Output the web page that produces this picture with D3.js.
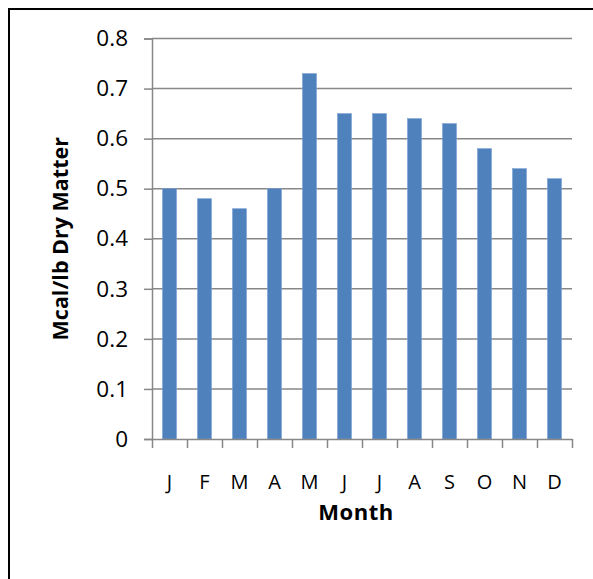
<!DOCTYPE html>
<html>
<head>
<meta charset="utf-8">
<script src="https://cdn.jsdelivr.net/npm/d3@7"></script>
<style>
  html, body { margin: 0; padding: 0; background: #fff; }
  svg { display: block; }
  text { font-family: "Open Sans", Lato, sans-serif; fill: #000; }
</style>
</head>
<body>
<svg id="chart" width="593" height="579"></svg>
<script>
const months = ["J","F","M","A","M","J","J","A","S","O","N","D"];
const values = [0.50, 0.48, 0.46, 0.50, 0.73, 0.65, 0.65, 0.64, 0.63, 0.58, 0.54, 0.52];
const yTicks = [0, 0.1, 0.2, 0.3, 0.4, 0.5, 0.6, 0.7, 0.8];
const yTitle = "Mcal/lb Dry Matter";
const xTitle = "Month";

(function () {
const svg = d3.select("#chart");
const W = 593, H = 579;
const FONT = "'Open Sans', Lato, sans-serif";
svg.append("rect").attr("x", 0).attr("y", 0).attr("width", W).attr("height", H).attr("fill", "#fff");
// outer border (only top/left visible in frame)
svg.append("rect").attr("x", 9).attr("y", 9).attr("width", W + 20).attr("height", H + 20)
  .attr("fill", "none").attr("stroke", "#000").attr("stroke-width", 2);

const pL = 152, pR = 572, pT = 38.5, pB = 439;
const idx = months.map((d, i) => i);
const x = d3.scaleBand().domain(idx).range([pL, pR]).paddingInner(0.6).paddingOuter(0.3);
const xb = d3.scaleLinear().domain([0, months.length]).range([pL, pR]);
const y = d3.scaleLinear().domain([0, 0.8]).range([pB, pT]);

const gridColor = "#878787";

// gridlines
svg.append("g").selectAll("line").data(yTicks.filter(t => t > 0)).join("line")
  .attr("x1", pL).attr("x2", pR)
  .attr("y1", d => y(d)).attr("y2", d => y(d))
  .attr("stroke", gridColor).attr("stroke-width", 1.5);

// bars
svg.append("g").selectAll("rect").data(values).join("rect")
  .attr("x", (d, i) => x(i)).attr("width", x.bandwidth())
  .attr("y", d => y(d)).attr("height", d => y(0) - y(d))
  .attr("fill", "#4F81BD").attr("stroke", "#7aa1d2").attr("stroke-width", 0.6);

// y axis
const yAxis = d3.axisLeft(y).tickValues(yTicks).tickFormat(d => d === 0 ? "0" : d3.format(".1f")(d))
  .tickSize(8).tickPadding(16);
const gy = svg.append("g").attr("transform", `translate(${pL},0)`).call(yAxis);
gy.select(".domain").attr("stroke", gridColor).attr("stroke-width", 1.5);
gy.selectAll(".tick line").attr("stroke", gridColor).attr("stroke-width", 1.5);
gy.selectAll(".tick text").attr("font-size", 22.5).attr("font-family", FONT).attr("fill", "#000");

// x axis baseline and ticks at band boundaries
const xAxis = d3.axisBottom(xb).tickValues(d3.range(0, months.length + 1)).tickFormat("").tickSize(9).tickSizeOuter(0);
const gx = svg.append("g").attr("transform", `translate(0,${pB})`).call(xAxis);
gx.select(".domain").attr("stroke", gridColor).attr("stroke-width", 1.5);
gx.selectAll(".tick line").attr("stroke", gridColor).attr("stroke-width", 1.5);

// x category labels
svg.append("g").selectAll("text").data(months).join("text")
  .attr("x", (d, i) => x(i) + x.bandwidth() / 2).attr("y", 489)
  .attr("text-anchor", "middle").attr("font-size", 20).attr("font-family", FONT)
  .text(d => d);

// axis titles
svg.append("text").attr("x", (pL + pR) / 2 - 6).attr("y", 520)
  .attr("text-anchor", "middle").attr("font-size", 22).attr("font-weight", "bold")
  .attr("font-family", FONT).attr("letter-spacing", 0.5)
  .text(xTitle);
svg.append("text").attr("transform", `translate(68,${(pT + pB) / 2}) rotate(-90)`)
  .attr("text-anchor", "middle").attr("font-size", 21.5).attr("font-weight", "bold")
  .attr("font-family", FONT)
  .text(yTitle);
})();
</script>
</body>
</html>
